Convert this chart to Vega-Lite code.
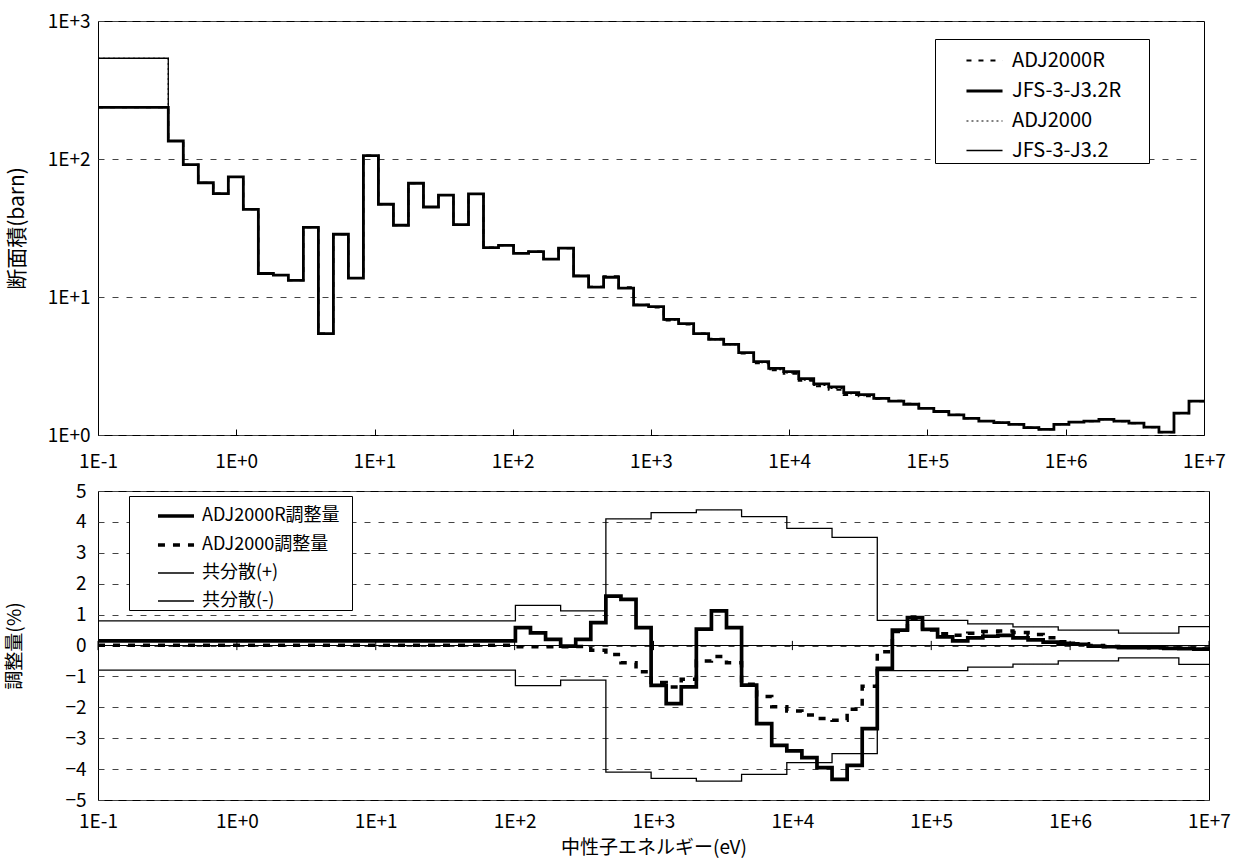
{
  "$schema": "https://vega.github.io/schema/vega-lite/v6.json",
  "background": "white",
  "padding": {"left": 5, "top": 11, "right": 0, "bottom": 0},
  "spacing": 9,
  "resolve": {
    "scale": {"strokeDash": "independent", "strokeWidth": "independent"},
    "legend": {"strokeDash": "independent", "strokeWidth": "independent"}
  },
  "config": {
    "font": "Noto Sans CJK JP",
    "view": {"stroke": "black", "strokeWidth": 1},
    "axis": {
      "labelFontSize": 19,
      "titleFontSize": 19,
      "labelColor": "black",
      "titleColor": "black",
      "titleFontWeight": "normal",
      "domain": false,
      "ticks": false,
      "gridColor": "#444444",
      "gridDash": [6, 8],
      "gridWidth": 1,
      "labelOverlap": false,
      "labelFlush": false
    },
    "legend": {
      "labelFontSize": 18,
      "labelColor": "black",
      "symbolType": "stroke",
      "symbolStrokeColor": "black",
      "symbolSize": 1300,
      "strokeColor": "black",
      "fillColor": "white",
      "labelLimit": 400,
      "titleOrient": "right"
    }
  },
  "datasets": {
    "groups": [
      {"e": 0.1, "jr": 237, "j": 537, "ar": 237.4, "a": 537.1, "dr": 0.15, "d": 0.01, "cp": 0.8, "cm": -0.8},
      {"e": 0.32242, "jr": 135, "j": 135, "ar": 135.2, "a": 135.0, "dr": 0.15, "d": 0.01, "cp": 0.8, "cm": -0.8},
      {"e": 0.41399, "jr": 90.9, "j": 90.9, "ar": 91.04, "a": 90.91, "dr": 0.15, "d": 0.01, "cp": 0.8, "cm": -0.8},
      {"e": 0.53158, "jr": 67.3, "j": 67.3, "ar": 67.4, "a": 67.31, "dr": 0.15, "d": 0.01, "cp": 0.8, "cm": -0.8},
      {"e": 0.68256, "jr": 56.1, "j": 56.1, "ar": 56.18, "a": 56.11, "dr": 0.15, "d": 0.01, "cp": 0.8, "cm": -0.8},
      {"e": 0.87642, "jr": 74.1, "j": 74.1, "ar": 74.21, "a": 74.11, "dr": 0.15, "d": 0.01, "cp": 0.8, "cm": -0.8},
      {"e": 1.1254, "jr": 43.2, "j": 43.2, "ar": 43.26, "a": 43.2, "dr": 0.15, "d": 0.01, "cp": 0.8, "cm": -0.8},
      {"e": 1.445, "jr": 14.8, "j": 14.8, "ar": 14.82, "a": 14.8, "dr": 0.15, "d": 0.01, "cp": 0.8, "cm": -0.8},
      {"e": 1.8554, "jr": 14.4, "j": 14.4, "ar": 14.42, "a": 14.4, "dr": 0.15, "d": 0.01, "cp": 0.8, "cm": -0.8},
      {"e": 2.3824, "jr": 13.2, "j": 13.2, "ar": 13.22, "a": 13.2, "dr": 0.15, "d": 0.01, "cp": 0.8, "cm": -0.8},
      {"e": 3.059, "jr": 32.0, "j": 32.0, "ar": 32.05, "a": 32.0, "dr": 0.15, "d": 0.01, "cp": 0.8, "cm": -0.8},
      {"e": 3.9279, "jr": 5.42, "j": 5.42, "ar": 5.43, "a": 5.42, "dr": 0.15, "d": 0.01, "cp": 0.8, "cm": -0.8},
      {"e": 5.0435, "jr": 28.5, "j": 28.5, "ar": 28.54, "a": 28.5, "dr": 0.15, "d": 0.01, "cp": 0.8, "cm": -0.8},
      {"e": 6.4759, "jr": 13.7, "j": 13.7, "ar": 13.72, "a": 13.7, "dr": 0.15, "d": 0.01, "cp": 0.8, "cm": -0.8},
      {"e": 8.3153, "jr": 105.7, "j": 105.7, "ar": 105.9, "a": 105.7, "dr": 0.15, "d": 0.01, "cp": 0.8, "cm": -0.8},
      {"e": 10.677, "jr": 47.0, "j": 47.0, "ar": 47.07, "a": 47.0, "dr": 0.15, "d": 0.01, "cp": 0.8, "cm": -0.8},
      {"e": 13.71, "jr": 33.1, "j": 33.1, "ar": 33.15, "a": 33.1, "dr": 0.15, "d": 0.01, "cp": 0.8, "cm": -0.8},
      {"e": 17.604, "jr": 66.7, "j": 66.7, "ar": 66.8, "a": 66.71, "dr": 0.15, "d": 0.01, "cp": 0.8, "cm": -0.8},
      {"e": 22.603, "jr": 44.9, "j": 44.9, "ar": 44.97, "a": 44.9, "dr": 0.15, "d": 0.01, "cp": 0.8, "cm": -0.8},
      {"e": 29.023, "jr": 54.8, "j": 54.8, "ar": 54.88, "a": 54.81, "dr": 0.15, "d": 0.01, "cp": 0.8, "cm": -0.8},
      {"e": 37.267, "jr": 33.4, "j": 33.4, "ar": 33.45, "a": 33.4, "dr": 0.15, "d": 0.01, "cp": 0.8, "cm": -0.8},
      {"e": 47.851, "jr": 55.8, "j": 55.8, "ar": 55.88, "a": 55.81, "dr": 0.15, "d": 0.01, "cp": 0.8, "cm": -0.8},
      {"e": 61.442, "jr": 22.8, "j": 22.8, "ar": 22.83, "a": 22.8, "dr": 0.15, "d": 0.01, "cp": 0.8, "cm": -0.8},
      {"e": 78.893, "jr": 23.7, "j": 23.7, "ar": 23.74, "a": 23.7, "dr": 0.15, "d": 0.01, "cp": 0.8, "cm": -0.8},
      {"e": 101.3, "jr": 20.7, "j": 20.7, "ar": 20.82, "a": 20.69, "dr": 0.58, "d": -0.04, "cp": 1.3, "cm": -1.3},
      {"e": 130.07, "jr": 21.3, "j": 21.3, "ar": 21.39, "a": 21.29, "dr": 0.41, "d": -0.04, "cp": 1.3, "cm": -1.3},
      {"e": 167.02, "jr": 18.8, "j": 18.8, "ar": 18.84, "a": 18.79, "dr": 0.2, "d": -0.04, "cp": 1.3, "cm": -1.3},
      {"e": 214.45, "jr": 22.6, "j": 22.6, "ar": 22.6, "a": 22.59, "dr": -0.02, "d": -0.04, "cp": 1.12, "cm": -1.12},
      {"e": 275.36, "jr": 14.2, "j": 14.2, "ar": 14.23, "a": 14.2, "dr": 0.2, "d": -0.03, "cp": 1.12, "cm": -1.12},
      {"e": 353.58, "jr": 11.8, "j": 11.8, "ar": 11.89, "a": 11.78, "dr": 0.74, "d": -0.15, "cp": 1.12, "cm": -1.12},
      {"e": 454.0, "jr": 13.9, "j": 13.9, "ar": 14.12, "a": 13.86, "dr": 1.6, "d": -0.29, "cp": 4.1, "cm": -4.1},
      {"e": 582.95, "jr": 11.6, "j": 11.6, "ar": 11.77, "a": 11.54, "dr": 1.49, "d": -0.56, "cp": 4.1, "cm": -4.1},
      {"e": 748.52, "jr": 8.75, "j": 8.75, "ar": 8.8, "a": 8.68, "dr": 0.58, "d": -0.85, "cp": 4.1, "cm": -4.1},
      {"e": 961.12, "jr": 8.51, "j": 8.51, "ar": 8.4, "a": 8.41, "dr": -1.29, "d": -1.2, "cp": 4.3, "cm": -4.3},
      {"e": 1234.1, "jr": 6.89, "j": 6.89, "ar": 6.76, "a": 6.8, "dr": -1.88, "d": -1.34, "cp": 4.3, "cm": -4.3},
      {"e": 1584.6, "jr": 6.41, "j": 6.41, "ar": 6.32, "a": 6.34, "dr": -1.34, "d": -1.09, "cp": 4.3, "cm": -4.3},
      {"e": 2034.7, "jr": 5.42, "j": 5.42, "ar": 5.45, "a": 5.39, "dr": 0.53, "d": -0.5, "cp": 4.39, "cm": -4.39},
      {"e": 2612.6, "jr": 4.93, "j": 4.93, "ar": 4.99, "a": 4.91, "dr": 1.12, "d": -0.36, "cp": 4.39, "cm": -4.39},
      {"e": 3354.6, "jr": 4.54, "j": 4.54, "ar": 4.57, "a": 4.51, "dr": 0.58, "d": -0.56, "cp": 4.39, "cm": -4.39},
      {"e": 4307.4, "jr": 3.95, "j": 3.95, "ar": 3.9, "a": 3.9, "dr": -1.28, "d": -1.25, "cp": 4.17, "cm": -4.17},
      {"e": 5530.8, "jr": 3.4, "j": 3.4, "ar": 3.31, "a": 3.34, "dr": -2.53, "d": -1.65, "cp": 4.17, "cm": -4.17},
      {"e": 7101.7, "jr": 3.04, "j": 3.04, "ar": 2.94, "a": 2.98, "dr": -3.23, "d": -1.98, "cp": 4.17, "cm": -4.17},
      {"e": 9118.8, "jr": 2.88, "j": 2.88, "ar": 2.78, "a": 2.82, "dr": -3.41, "d": -2.12, "cp": 3.79, "cm": -3.79},
      {"e": 11709, "jr": 2.56, "j": 2.56, "ar": 2.47, "a": 2.5, "dr": -3.63, "d": -2.25, "cp": 3.79, "cm": -3.79},
      {"e": 15034, "jr": 2.35, "j": 2.35, "ar": 2.26, "a": 2.29, "dr": -3.95, "d": -2.36, "cp": 3.79, "cm": -3.79},
      {"e": 19305, "jr": 2.23, "j": 2.23, "ar": 2.13, "a": 2.18, "dr": -4.33, "d": -2.42, "cp": 3.5, "cm": -3.5},
      {"e": 24788, "jr": 2.03, "j": 2.03, "ar": 1.95, "a": 1.99, "dr": -3.88, "d": -2.06, "cp": 3.5, "cm": -3.5},
      {"e": 31828, "jr": 1.96, "j": 1.96, "ar": 1.91, "a": 1.93, "dr": -2.69, "d": -1.32, "cp": 3.5, "cm": -3.5},
      {"e": 40868, "jr": 1.84, "j": 1.84, "ar": 1.83, "a": 1.836, "dr": -0.74, "d": -0.2, "cp": 0.81, "cm": -0.81},
      {"e": 52475, "jr": 1.76, "j": 1.76, "ar": 1.77, "a": 1.768, "dr": 0.5, "d": 0.45, "cp": 0.81, "cm": -0.81},
      {"e": 67379, "jr": 1.67, "j": 1.67, "ar": 1.685, "a": 1.684, "dr": 0.9, "d": 0.85, "cp": 0.81, "cm": -0.81},
      {"e": 86517, "jr": 1.56, "j": 1.56, "ar": 1.568, "a": 1.568, "dr": 0.52, "d": 0.5, "cp": 0.81, "cm": -0.81},
      {"e": 111090, "jr": 1.48, "j": 1.48, "ar": 1.484, "a": 1.486, "dr": 0.28, "d": 0.38, "cp": 0.81, "cm": -0.81},
      {"e": 142640, "jr": 1.4, "j": 1.4, "ar": 1.402, "a": 1.405, "dr": 0.15, "d": 0.33, "cp": 0.81, "cm": -0.81},
      {"e": 183160, "jr": 1.32, "j": 1.32, "ar": 1.323, "a": 1.325, "dr": 0.25, "d": 0.4, "cp": 0.7, "cm": -0.7},
      {"e": 235180, "jr": 1.26, "j": 1.26, "ar": 1.264, "a": 1.266, "dr": 0.3, "d": 0.45, "cp": 0.7, "cm": -0.7},
      {"e": 301970, "jr": 1.23, "j": 1.23, "ar": 1.234, "a": 1.236, "dr": 0.33, "d": 0.47, "cp": 0.7, "cm": -0.7},
      {"e": 387740, "jr": 1.195, "j": 1.195, "ar": 1.198, "a": 1.2, "dr": 0.25, "d": 0.42, "cp": 0.6, "cm": -0.6},
      {"e": 497870, "jr": 1.13, "j": 1.13, "ar": 1.132, "a": 1.134, "dr": 0.18, "d": 0.36, "cp": 0.6, "cm": -0.6},
      {"e": 639280, "jr": 1.1, "j": 1.1, "ar": 1.101, "a": 1.103, "dr": 0.11, "d": 0.25, "cp": 0.6, "cm": -0.6},
      {"e": 820850, "jr": 1.195, "j": 1.195, "ar": 1.196, "a": 1.196, "dr": 0.07, "d": 0.12, "cp": 0.5, "cm": -0.5},
      {"e": 1054000, "jr": 1.24, "j": 1.24, "ar": 1.24, "a": 1.241, "dr": 0.04, "d": 0.06, "cp": 0.5, "cm": -0.5},
      {"e": 1353400, "jr": 1.26, "j": 1.26, "ar": 1.26, "a": 1.26, "dr": -0.02, "d": 0.0, "cp": 0.5, "cm": -0.5},
      {"e": 1737700, "jr": 1.3, "j": 1.3, "ar": 1.299, "a": 1.3, "dr": -0.04, "d": -0.03, "cp": 0.5, "cm": -0.5},
      {"e": 2231300, "jr": 1.26, "j": 1.26, "ar": 1.259, "a": 1.259, "dr": -0.07, "d": -0.05, "cp": 0.4, "cm": -0.4},
      {"e": 2865000, "jr": 1.22, "j": 1.22, "ar": 1.219, "a": 1.219, "dr": -0.07, "d": -0.06, "cp": 0.4, "cm": -0.4},
      {"e": 3678800, "jr": 1.14, "j": 1.14, "ar": 1.139, "a": 1.139, "dr": -0.07, "d": -0.07, "cp": 0.4, "cm": -0.4},
      {"e": 4723700, "jr": 1.05, "j": 1.05, "ar": 1.049, "a": 1.049, "dr": -0.09, "d": -0.08, "cp": 0.4, "cm": -0.4},
      {"e": 6065300, "jr": 1.44, "j": 1.44, "ar": 1.439, "a": 1.439, "dr": -0.1, "d": -0.09, "cp": 0.61, "cm": -0.61},
      {"e": 7788000, "jr": 1.76, "j": 1.76, "ar": 1.758, "a": 1.758, "dr": -0.12, "d": -0.11, "cp": 0.61, "cm": -0.61},
      {"e": 10000000, "jr": 1.76, "j": 1.76, "ar": 1.758, "a": 1.758, "dr": -0.12, "d": -0.11, "cp": 0.61, "cm": -0.61}
    ],
    "decades": [
      {"t": 0.1}, {"t": 1}, {"t": 10}, {"t": 100}, {"t": 1000},
      {"t": 10000}, {"t": 100000}, {"t": 1000000}, {"t": 10000000}
    ]
  },
  "vconcat": [
    {
      "width": 1106,
      "height": 414,
      "data": {"name": "groups"},
      "transform": [{"fold": ["ar", "jr", "a", "j"], "as": ["s", "v"]}],
      "mark": {"type": "line", "interpolate": "step-after", "color": "black", "strokeCap": "butt"},
      "encoding": {
        "x": {
          "field": "e",
          "type": "quantitative",
          "scale": {"type": "log", "domain": [0.1, 10000000]},
          "axis": {
            "title": null,
            "values": [0.1, 1, 10, 100, 1000, 10000, 100000, 1000000, 10000000],
            "labelExpr": "'1E' + (datum.value >= 1 ? '+' : '-') + format(abs(round(log(datum.value) / LN10)), 'd')",
            "grid": false,
            "ticks": true,
            "tickSize": -6,
            "tickColor": "black",
            "labelPadding": 23
          }
        },
        "y": {
          "field": "v",
          "type": "quantitative",
          "scale": {"type": "log", "domain": [1, 1000]},
          "axis": {
            "title": "断面積(barn)",
            "titleFontSize": 21,
            "values": [1, 10, 100, 1000],
            "labelExpr": "'1E' + (datum.value >= 1 ? '+' : '-') + format(abs(round(log(datum.value) / LN10)), 'd')",
            "grid": true,
            "labelPadding": 8,
            "titlePadding": 20
          }
        },
        "strokeDash": {
          "field": "s",
          "type": "nominal",
          "scale": {"domain": ["ar", "jr", "a", "j"], "range": [[5, 7], [1, 0], [2, 3], [1, 0]]},
          "legend": {
            "title": " ",
            "titlePadding": 26,
            "orient": "none",
            "legendX": 837,
            "legendY": 18,
            "padding": 2,
            "rowPadding": 0.5,
            "symbolOffset": 28,
            "labelOffset": 8,
            "labelFontSize": 20,
            "labelExpr": "datum.label == 'ar' ? 'ADJ2000R' : datum.label == 'jr' ? 'JFS-3-J3.2R' : datum.label == 'a' ? 'ADJ2000' : 'JFS-3-J3.2'"
          }
        },
        "strokeWidth": {
          "field": "s",
          "type": "nominal",
          "scale": {"type": "ordinal", "domain": ["ar", "jr", "a", "j"], "range": [2, 2.8, 1.2, 1.3]},
          "legend": {
            "title": " ",
            "titlePadding": 26,
            "orient": "none",
            "legendX": 837,
            "legendY": 18,
            "padding": 2,
            "rowPadding": 0.5,
            "symbolOffset": 28,
            "labelOffset": 8,
            "labelFontSize": 20,
            "labelExpr": "datum.label == 'ar' ? 'ADJ2000R' : datum.label == 'jr' ? 'JFS-3-J3.2R' : datum.label == 'a' ? 'ADJ2000' : 'JFS-3-J3.2'"
          }
        }
      }
    },
    {
      "width": 1111,
      "height": 309,
      "layer": [
        {
          "data": {"name": "groups"},
          "transform": [{"fold": ["cp", "cm", "d", "dr"], "as": ["s", "v"]}],
          "mark": {"type": "line", "interpolate": "step-after", "color": "black", "strokeCap": "butt"},
          "encoding": {
            "x": {
              "field": "e",
              "type": "quantitative",
              "scale": {"type": "log", "domain": [0.1, 10000000]},
              "axis": {
                "title": "中性子エネルギー(eV)",
                "values": [0.1, 1, 10, 100, 1000, 10000, 100000, 1000000, 10000000],
                "labelExpr": "'1E' + (datum.value >= 1 ? '+' : '-') + format(abs(round(log(datum.value) / LN10)), 'd')",
                "grid": false,
                "labelPadding": 12,
                "titlePadding": 7
              }
            },
            "y": {
              "field": "v",
              "type": "quantitative",
              "scale": {"domain": [-5, 5]},
              "axis": {
                "title": "調整量(%)",
                "values": [-5, -4, -3, -2, -1, 0, 1, 2, 3, 4, 5],
                "format": "d",
                "grid": true,
                "labelPadding": 12,
                "titlePadding": 40
              }
            },
            "strokeDash": {
              "field": "s",
              "type": "nominal",
              "scale": {"domain": ["dr", "d", "cp", "cm"], "range": [[1, 0], [7, 8], [1, 0], [1, 0]]},
              "legend": {
                "title": " ",
                "titlePadding": 12,
                "orient": "none",
                "legendX": 31,
                "legendY": 5,
                "padding": 0,
                "rowPadding": -5,
                "symbolOffset": 27,
                "labelOffset": 6,
                "labelExpr": "datum.label == 'dr' ? 'ADJ2000R調整量' : datum.label == 'd' ? 'ADJ2000調整量' : datum.label == 'cp' ? '共分散(+)' : '共分散(-)'"
              }
            },
            "strokeWidth": {
              "field": "s",
              "type": "nominal",
              "scale": {"type": "ordinal", "domain": ["dr", "d", "cp", "cm"], "range": [3.7, 3.5, 1.3, 1.3]},
              "legend": {
                "title": " ",
                "titlePadding": 12,
                "orient": "none",
                "legendX": 31,
                "legendY": 5,
                "padding": 0,
                "rowPadding": -5,
                "symbolOffset": 27,
                "labelOffset": 6,
                "labelExpr": "datum.label == 'dr' ? 'ADJ2000R調整量' : datum.label == 'd' ? 'ADJ2000調整量' : datum.label == 'cp' ? '共分散(+)' : '共分散(-)'"
              }
            }
          }
        },
        {
          "data": {"values": [{"zero": 0}]},
          "mark": {"type": "rule", "color": "black", "strokeWidth": 1.2},
          "encoding": {
            "y": {
              "field": "zero",
              "type": "quantitative",
              "scale": {"domain": [-5, 5]},
              "axis": {
                "title": "調整量(%)",
                "values": [-5, -4, -3, -2, -1, 0, 1, 2, 3, 4, 5],
                "format": "d",
                "grid": true,
                "labelPadding": 12,
                "titlePadding": 40
              }
            }
          }
        },
        {
          "data": {"name": "decades"},
          "mark": {"type": "rule", "color": "black", "strokeWidth": 1},
          "encoding": {
            "x": {
              "field": "t",
              "type": "quantitative",
              "scale": {"type": "log", "domain": [0.1, 10000000]},
              "axis": {
                "title": "中性子エネルギー(eV)",
                "values": [0.1, 1, 10, 100, 1000, 10000, 100000, 1000000, 10000000],
                "labelExpr": "'1E' + (datum.value >= 1 ? '+' : '-') + format(abs(round(log(datum.value) / LN10)), 'd')",
                "grid": false,
                "labelPadding": 12,
                "titlePadding": 7
              }
            },
            "y": {
              "datum": -0.15,
              "type": "quantitative",
              "scale": {"domain": [-5, 5]},
              "axis": {
                "title": "調整量(%)",
                "values": [-5, -4, -3, -2, -1, 0, 1, 2, 3, 4, 5],
                "format": "d",
                "grid": true,
                "labelPadding": 12,
                "titlePadding": 40
              }
            },
            "y2": {"datum": 0.15}
          }
        }
      ]
    }
  ]
}
